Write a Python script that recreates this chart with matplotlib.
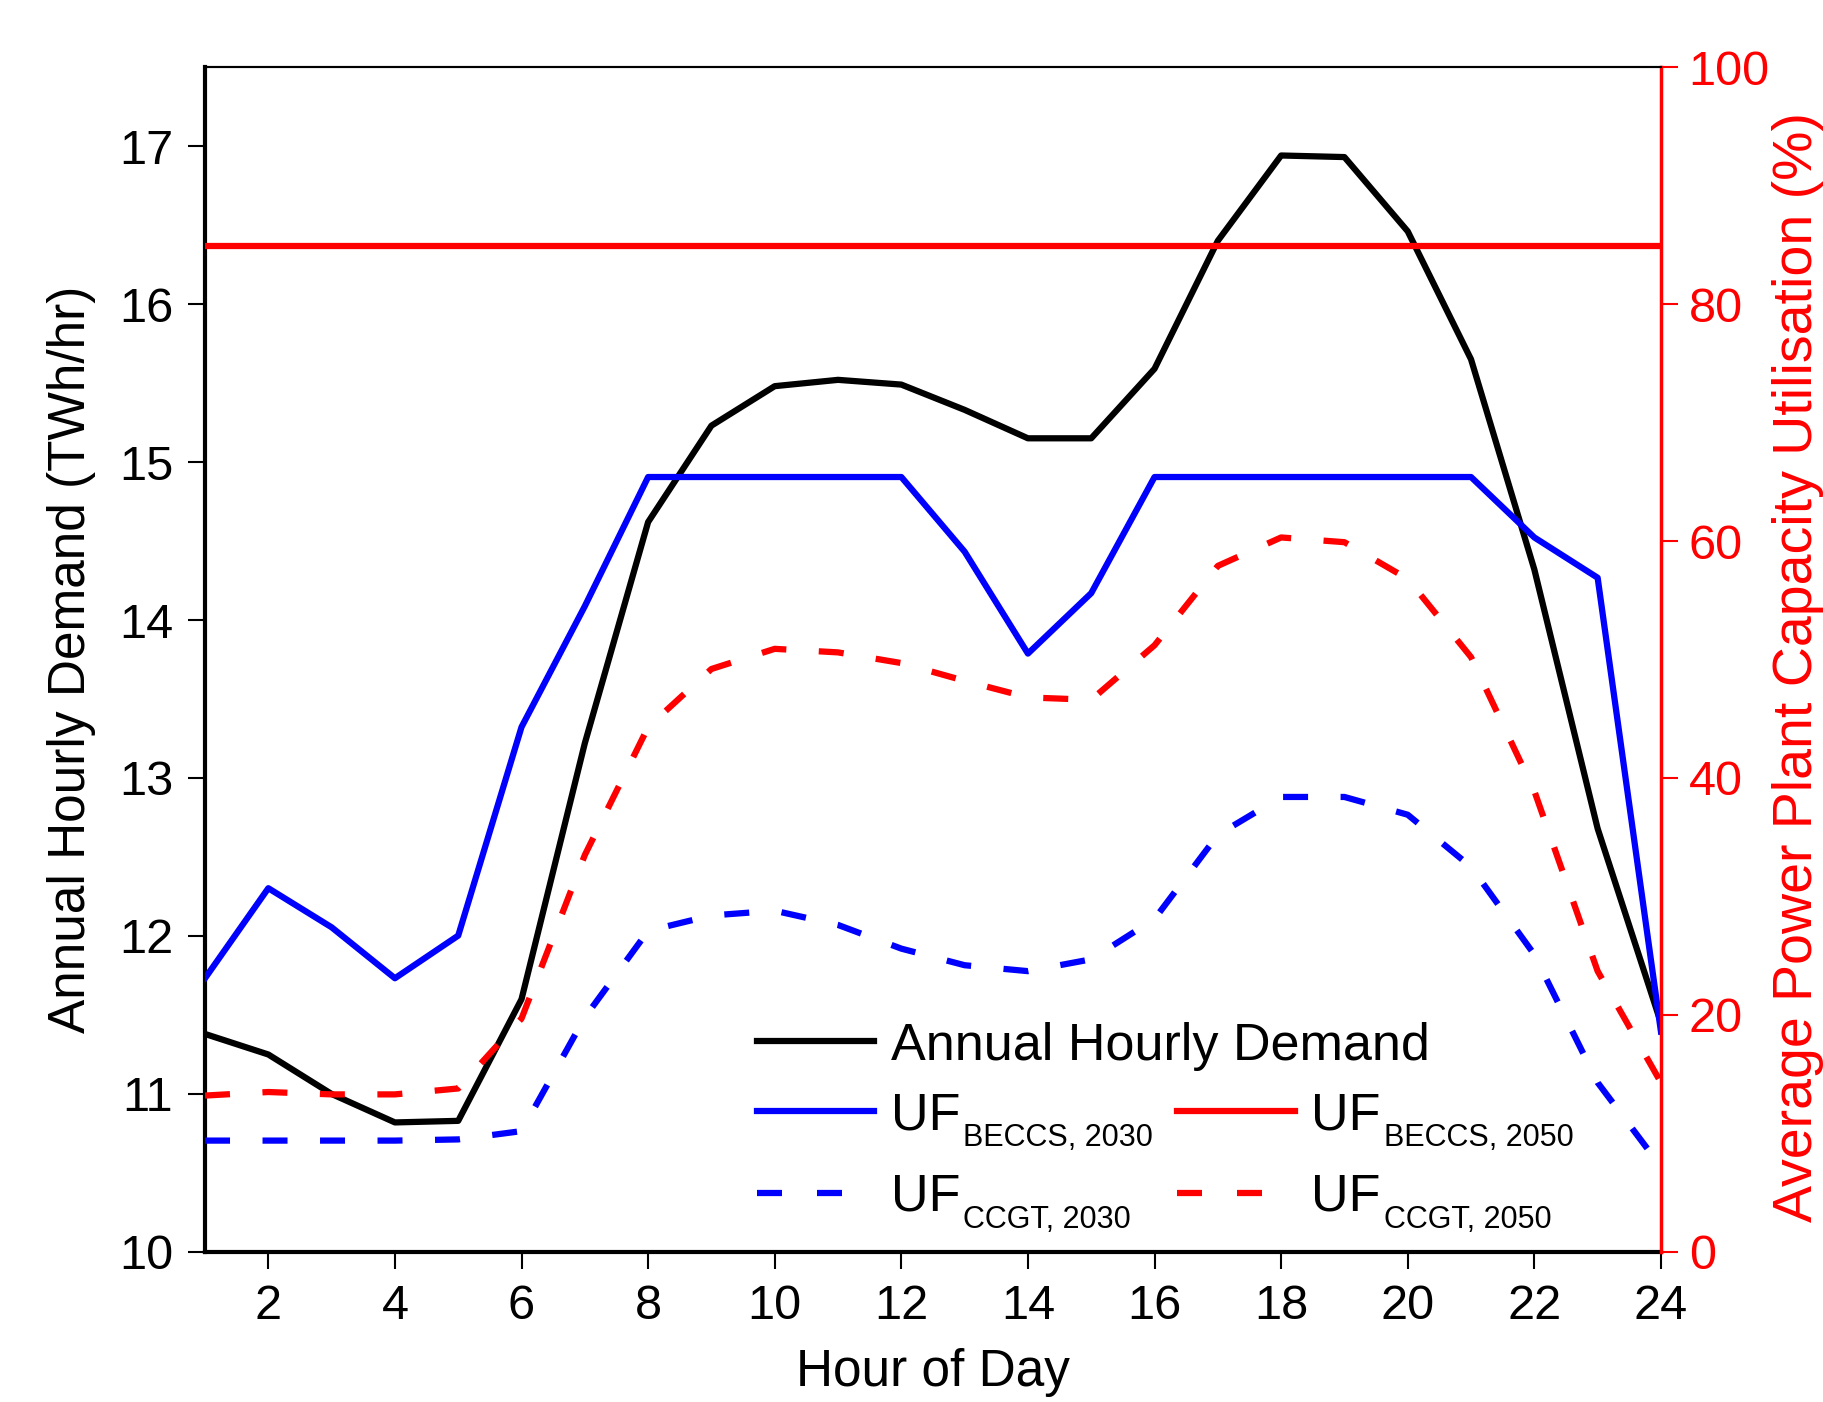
import matplotlib.pyplot as plt
from matplotlib.lines import Line2D

plt.rcParams["font.family"] = ["Liberation Sans", "DejaVu Sans"]

hours = list(range(1, 25))

# annual hourly demand (TWh/hr), left axis
demand = [11.38, 11.25, 11.00, 10.82, 10.83, 11.60, 13.22, 14.62, 15.23, 15.48,
          15.52, 15.49, 15.33, 15.15, 15.15, 15.59, 16.40, 16.94, 16.93, 16.46,
          15.65, 14.32, 12.68, 11.45]

# utilisation factors (%), right axis
uf_beccs_2030 = [23.1, 30.7, 27.4, 23.1, 26.7, 44.3, 54.5, 65.4, 65.4, 65.4,
                 65.4, 65.4, 59.1, 50.5, 55.6, 65.4, 65.4, 65.4, 65.4, 65.4,
                 65.4, 60.3, 56.9, 18.6]
uf_beccs_2050 = [84.9] * 24
uf_ccgt_2030 = [9.4, 9.4, 9.4, 9.4, 9.5, 10.2, 19.8, 27.1, 28.4, 28.8,
                27.6, 25.6, 24.2, 23.7, 24.7, 28.1, 35.2, 38.4, 38.4, 36.9,
                32.5, 25.1, 14.3, 7.2]
uf_ccgt_2050 = [13.2, 13.5, 13.3, 13.3, 13.8, 19.7, 33.5, 44.3, 49.2, 50.9,
                50.6, 49.7, 48.2, 46.8, 46.6, 51.2, 57.9, 60.3, 59.9, 56.8,
                50.2, 38.9, 23.7, 14.3]

legend_subs = ["BECCS, 2030", "CCGT, 2030", "BECCS, 2050", "CCGT, 2050"]

TICK_FS = 35
LABEL_FS = 37
RLABEL_FS = 40
LEG_FS = 37.5
SUB_FS = 22
LW = 4.5
DASH = (4, 5.2)
HANDLE_DASH = (4, 5.6)

fig = plt.figure(figsize=(18.24, 14.02), dpi=100)
ax = fig.add_axes([0.1124, 0.1070, 0.7982, 0.8452])
ax2 = ax.twinx()

ax.plot(hours, demand, color="black", lw=LW)

ax2.plot(hours, uf_beccs_2030, color="blue", lw=LW)
ax2.plot(hours, uf_beccs_2050, color="red", lw=LW)
ax2.plot(hours, uf_ccgt_2030, color="blue", lw=LW, dashes=DASH)
ax2.plot(hours, uf_ccgt_2050, color="red", lw=LW, dashes=DASH)

ax.set_xlim(1, 24)
ax.set_ylim(10, 17.5)
ax2.set_ylim(0, 100)

ax.set_xticks(range(2, 25, 2))
ax.set_yticks(range(10, 18))
ax2.set_yticks(range(0, 101, 20))

ax.tick_params(axis="both", labelsize=TICK_FS, length=12, width=1.5, pad=11)
ax2.tick_params(axis="y", labelsize=TICK_FS, length=12, width=1.5, pad=8,
                colors="red")

ax.spines["left"].set_linewidth(3)
ax.spines["bottom"].set_linewidth(3)
ax.spines["top"].set_linewidth(1.5)
ax2.spines["top"].set_linewidth(1.5)
ax2.spines["right"].set_color("red")
ax2.spines["right"].set_linewidth(2.5)
ax2.spines["left"].set_visible(False)
ax2.spines["bottom"].set_visible(False)

ax.set_xlabel("Hour of Day", fontsize=LABEL_FS, labelpad=14)
ax.set_ylabel("Annual Hourly Demand (TWh/hr)", fontsize=LABEL_FS)
ax.yaxis.set_label_coords(-0.075, 0.50)
ax2.set_ylabel("Average Power Plant Capacity Utilisation (%)",
               fontsize=RLABEL_FS, color="red")
ax2.yaxis.set_label_coords(1.076, 0.494)

# legend: one entry per legend so each row/column can be placed
entries = [
    (Line2D([], [], color="black", lw=LW), "Annual Hourly Demand", 0.4150, 0.2539),
    (Line2D([], [], color="blue", lw=LW), "UF", 0.4150, 0.2040),
    (Line2D([], [], color="blue", lw=LW, dashes=HANDLE_DASH), "UF", 0.4150, 0.1460),
    (Line2D([], [], color="red", lw=LW), "UF", 0.6455, 0.2040),
    (Line2D([], [], color="red", lw=LW, dashes=HANDLE_DASH), "UF", 0.6455, 0.1460),
]
uf_legends = []
for handle, label, lx, ly in entries:
    leg = fig.legend([handle], [label], loc="center left",
                     bbox_to_anchor=(lx, ly), bbox_transform=fig.transFigure,
                     frameon=False, fontsize=LEG_FS, handlelength=2.25,
                     handletextpad=0.32, borderpad=0, borderaxespad=0)
    if label == "UF":
        uf_legends.append(leg)

# subscripts placed next to each "UF", just below its baseline
fig.canvas.draw()
for leg, sub in zip(uf_legends, legend_subs):
    t = leg.get_texts()[0]
    bb = t.get_window_extent()
    base_y = t.get_transform().transform(t.get_position())[1]
    fig.text(bb.x1 + 3, base_y - 17, sub, fontsize=SUB_FS,
             transform=None, ha="left", va="baseline")

fig.savefig("out.png", dpi=100)
plt.close(fig)
